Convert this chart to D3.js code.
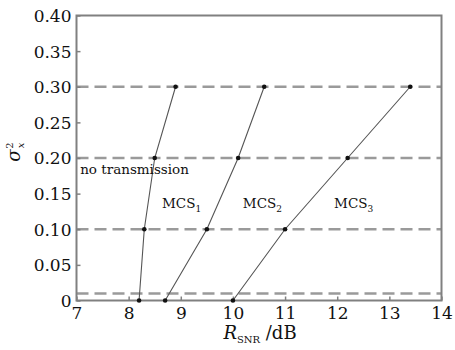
<!DOCTYPE html>
<html><head><meta charset="utf-8">
<script src="https://cdn.jsdelivr.net/npm/d3@7"></script>
<style>body{margin:0;background:#fff}svg{display:block}</style>
</head><body>
<svg id="c" width="455" height="350"></svg>
<script>
const xTicks = [7,8,9,10,11,12,13,14];
const yTicks = [0,0.05,0.10,0.15,0.20,0.25,0.30,0.35,0.40];
const yTickLabels = ["0","0.05","0.10","0.15","0.20","0.25","0.30","0.35","0.40"];
const dashedLevels = [0.01,0.10,0.20,0.30];
const boundaryNoTx = [[8.2,0],[8.3,0.1],[8.5,0.2],[8.9,0.3]];
const boundaryMCS12 = [[8.7,0],[9.5,0.1],[10.1,0.2],[10.6,0.3]];
const boundaryMCS23 = [[10.0,0],[11.0,0.1],[12.2,0.2],[13.4,0.3]];
const boundaries = [boundaryNoTx, boundaryMCS12, boundaryMCS23];
const regionLabels = [
  {t:"no transmission", sub:"", x:7.07, y:0.177},
  {t:"MCS", sub:"1", x:8.64, y:0.13},
  {t:"MCS", sub:"2", x:10.19, y:0.13},
  {t:"MCS", sub:"3", x:11.94, y:0.13}
];

const FONT = "'DejaVu Serif', 'Liberation Serif', serif";
const svg = d3.select("#c");
const L=76.5, R=441.5, T=15.5, B=300.5;
const x = d3.scaleLinear().domain([7,14]).range([L,R]);
const y = d3.scaleLinear().domain([0,0.4]).range([B,T]);
const axisCol = "#808080";

svg.selectAll("line.dash").data(dashedLevels).join("line")
  .attr("x1",x(7)).attr("x2",x(14)).attr("y1",d=>y(d)).attr("y2",d=>y(d))
  .attr("stroke","#9a9a9a").attr("stroke-width",2.5).attr("stroke-dasharray","12,6");

svg.append("rect").attr("x",L).attr("y",T).attr("width",R-L).attr("height",B-T)
  .attr("fill","none").attr("stroke",axisCol).attr("stroke-width",2);

const xAxis = d3.axisBottom(x).tickValues(xTicks).tickSizeInner(-4).tickSizeOuter(0).tickPadding(6).tickFormat(d3.format("d"));
const gx = svg.append("g").attr("transform",`translate(0,${B})`).call(xAxis);
const yAxis = d3.axisLeft(y).tickValues(yTicks).tickSizeInner(-4).tickSizeOuter(0).tickPadding(5).tickFormat((d,i)=>yTickLabels[i]);
const gy = svg.append("g").attr("transform",`translate(${L},0)`).call(yAxis);
[gx,gy].forEach(g=>{
  g.attr("font-family",FONT).attr("font-size",17);
  g.select(".domain").remove();
  g.selectAll(".tick line").attr("stroke",axisCol).attr("stroke-width",1.5);
  g.selectAll(".tick text").style("font-family",FONT).style("font-size","17px").attr("fill","#111");
});
gx.selectAll(".tick text").attr("dy","0.72em");
gy.selectAll(".tick text").attr("dy","0.35em");

const line = d3.line().x(d=>x(d[0])).y(d=>y(d[1]));
svg.selectAll("path.b").data(boundaries).join("path")
  .attr("d",line).attr("fill","none").attr("stroke","#555").attr("stroke-width",1.1);
svg.selectAll("circle.p").data(boundaries.flat()).join("circle")
  .attr("cx",d=>x(d[0])).attr("cy",d=>y(d[1])).attr("r",2.3).attr("fill","#111");

regionLabels.forEach(l=>{
  const t = svg.append("text").attr("x",x(l.x)).attr("y",y(l.y))
    .style("font-family",FONT).style("font-size","13.5px").attr("fill","#111");
  t.append("tspan").text(l.t);
  if(l.sub) t.append("tspan").attr("dy",4).style("font-size","9px").text(l.sub);
});

const xl = svg.append("text").attr("x",260).attr("y",339).attr("text-anchor","middle")
  .style("font-family",FONT).style("font-size","18px").attr("fill","#111");
xl.append("tspan").attr("font-style","italic").text("R");
xl.append("tspan").style("font-size","10px").attr("dy",4).text("SNR");
xl.append("tspan").attr("dy",-4).text(" /dB");

const yl = svg.append("text").attr("transform","translate(20,152) rotate(-90)").attr("text-anchor","middle")
  .style("font-family",FONT).style("font-size","18px").attr("fill","#111");
yl.append("tspan").attr("font-style","italic").text("σ");
yl.append("tspan").style("font-size","10px").attr("font-style","italic").attr("dx",1).attr("dy",4).text("x");
yl.append("tspan").style("font-size","10px").attr("dx",-6).attr("dy",-11).text("2");
</script>
</body></html>
